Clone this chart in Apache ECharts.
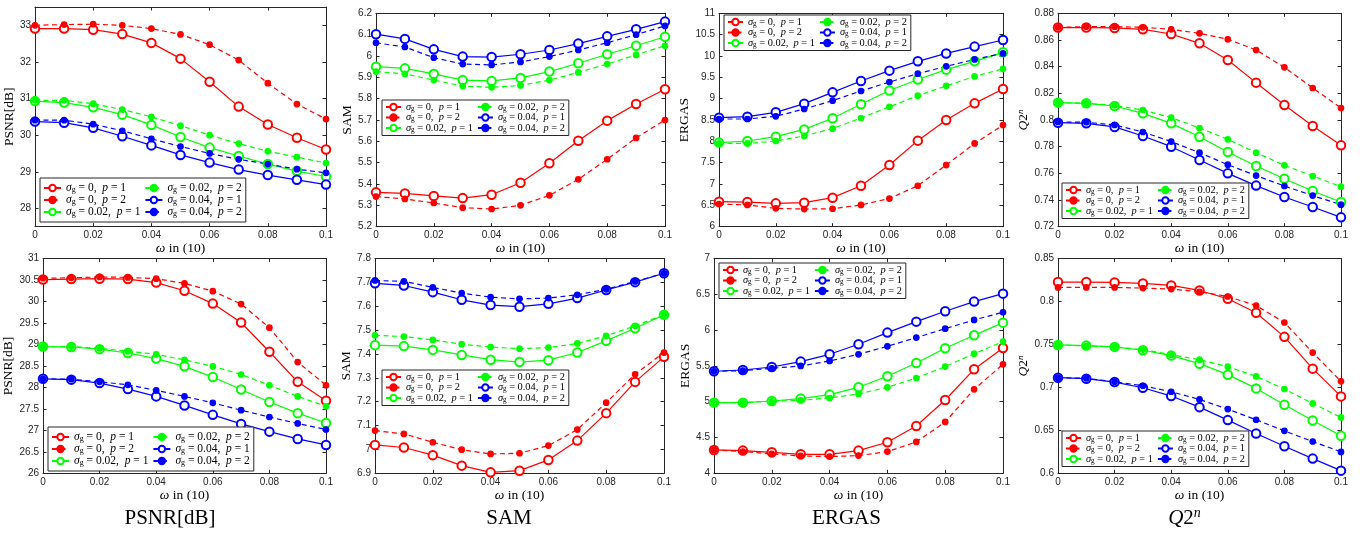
<!DOCTYPE html>
<html><head><meta charset="utf-8">
<script src="https://cdn.jsdelivr.net/npm/echarts@6/dist/echarts.min.js"></script>
<style>html,body{margin:0;padding:0;background:#fff}#c{width:1367px;height:536px}</style>
</head><body><div id="c"></div>
<script>
// ---------- data ----------
const omega = [0, 0.01, 0.02, 0.03, 0.04, 0.05, 0.06, 0.07, 0.08, 0.09, 0.1];
const omegaTicks = [0, 0.02, 0.04, 0.06, 0.08, 0.1];
const seriesKeys = ['s0p1', 's0p2', 's002p1', 's002p2', 's004p1', 's004p2'];
const columnTitles = ['PSNR[dB]', 'SAM', 'ERGAS', 'Q2n'];

// top row
const T_PSNR_s0_p1   = [32.91, 32.91, 32.88, 32.76, 32.52, 32.09, 31.46, 30.78, 30.29, 29.93, 29.61];
const T_PSNR_s0_p2   = [33.00, 33.02, 33.03, 33.00, 32.91, 32.75, 32.47, 32.05, 31.42, 30.85, 30.44];
const T_PSNR_s002_p1 = [30.93, 30.89, 30.76, 30.56, 30.28, 29.95, 29.66, 29.43, 29.21, 29.02, 28.87];
const T_PSNR_s002_p2 = [30.95, 30.95, 30.86, 30.70, 30.50, 30.26, 30.00, 29.77, 29.56, 29.40, 29.24];
const T_PSNR_s004_p1 = [30.37, 30.34, 30.20, 29.97, 29.72, 29.46, 29.25, 29.06, 28.91, 28.78, 28.65];
const T_PSNR_s004_p2 = [30.41, 30.41, 30.30, 30.12, 29.90, 29.69, 29.50, 29.34, 29.21, 29.07, 28.97];
const T_PSNR_ticks = [28, 29, 30, 31, 32, 33];

const T_SAM_s0_p1   = [5.361, 5.356, 5.344, 5.334, 5.350, 5.406, 5.497, 5.603, 5.697, 5.775, 5.844];
const T_SAM_s0_p2   = [5.341, 5.330, 5.311, 5.289, 5.283, 5.300, 5.347, 5.422, 5.516, 5.616, 5.700];
const T_SAM_s002_p1 = [5.950, 5.942, 5.916, 5.887, 5.883, 5.897, 5.927, 5.966, 6.008, 6.048, 6.090];
const T_SAM_s002_p2 = [5.927, 5.916, 5.887, 5.859, 5.853, 5.862, 5.887, 5.923, 5.962, 6.005, 6.048];
const T_SAM_s004_p1 = [6.102, 6.080, 6.031, 5.997, 5.995, 6.008, 6.028, 6.058, 6.092, 6.125, 6.161];
const T_SAM_s004_p2 = [6.062, 6.042, 5.992, 5.962, 5.958, 5.972, 5.997, 6.028, 6.062, 6.100, 6.141];
const T_SAM_ticks = [5.2, 5.3, 5.4, 5.5, 5.6, 5.7, 5.8, 5.9, 6, 6.1, 6.2];

const T_ERGAS_s0_p1   = [6.586, 6.578, 6.547, 6.563, 6.680, 6.960, 7.445, 8.016, 8.500, 8.890, 9.227];
const T_ERGAS_s0_p2   = [6.530, 6.510, 6.430, 6.414, 6.420, 6.510, 6.660, 6.960, 7.445, 7.950, 8.380];
const T_ERGAS_s002_p1 = [7.970, 8.008, 8.110, 8.280, 8.540, 8.870, 9.190, 9.450, 9.680, 9.875, 10.086];
const T_ERGAS_s002_p2 = [7.950, 7.950, 8.008, 8.125, 8.300, 8.547, 8.810, 9.070, 9.300, 9.520, 9.700];
const T_ERGAS_s004_p1 = [8.555, 8.578, 8.680, 8.883, 9.148, 9.414, 9.656, 9.875, 10.060, 10.220, 10.375];
const T_ERGAS_s004_p2 = [8.523, 8.523, 8.586, 8.758, 8.953, 9.180, 9.390, 9.586, 9.758, 9.920, 10.060];
const T_ERGAS_ticks = [6, 6.5, 7, 7.5, 8, 8.5, 9, 9.5, 10, 10.5, 11];

const T_Q2N_s0_p1   = [0.8693, 0.8693, 0.8690, 0.8680, 0.8645, 0.8575, 0.8450, 0.8280, 0.8113, 0.7955, 0.7810];
const T_Q2N_s0_p2   = [0.8695, 0.8700, 0.8700, 0.8695, 0.8680, 0.8650, 0.8605, 0.8525, 0.8395, 0.8240, 0.8090];
const T_Q2N_s002_p1 = [0.8130, 0.8125, 0.8105, 0.8050, 0.7975, 0.7875, 0.7760, 0.7655, 0.7560, 0.7468, 0.7385];
const T_Q2N_s002_p2 = [0.8130, 0.8125, 0.8110, 0.8075, 0.8018, 0.7940, 0.7855, 0.7755, 0.7660, 0.7580, 0.7500];
const T_Q2N_s004_p1 = [0.7980, 0.7975, 0.7948, 0.7880, 0.7800, 0.7700, 0.7600, 0.7508, 0.7423, 0.7348, 0.7270];
const T_Q2N_s004_p2 = [0.7985, 0.7983, 0.7963, 0.7910, 0.7838, 0.7755, 0.7665, 0.7583, 0.7505, 0.7433, 0.7365];
const T_Q2N_ticks = [0.72, 0.74, 0.76, 0.78, 0.8, 0.82, 0.84, 0.86, 0.88];

// bottom row
const B_PSNR_s0_p1   = [30.51, 30.52, 30.53, 30.52, 30.44, 30.25, 29.95, 29.51, 28.83, 28.13, 27.69];
const B_PSNR_s0_p2   = [30.54, 30.55, 30.57, 30.56, 30.53, 30.42, 30.24, 29.94, 29.39, 28.59, 28.05];
const B_PSNR_s002_p1 = [28.95, 28.94, 28.89, 28.80, 28.67, 28.49, 28.24, 27.95, 27.66, 27.40, 27.17];
const B_PSNR_s002_p2 = [28.95, 28.95, 28.91, 28.84, 28.77, 28.64, 28.49, 28.30, 28.05, 27.79, 27.56];
const B_PSNR_s004_p1 = [28.20, 28.18, 28.10, 27.96, 27.79, 27.58, 27.36, 27.15, 26.97, 26.80, 26.66];
const B_PSNR_s004_p2 = [28.20, 28.19, 28.13, 28.06, 27.93, 27.79, 27.64, 27.47, 27.31, 27.16, 27.02];
const B_PSNR_ticks = [26, 26.5, 27, 27.5, 28, 28.5, 29, 29.5, 30, 30.5, 31];

const B_SAM_s0_p1   = [7.019, 7.008, 6.976, 6.932, 6.904, 6.911, 6.956, 7.037, 7.152, 7.283, 7.388];
const B_SAM_s0_p2   = [7.079, 7.065, 7.030, 6.999, 6.981, 6.984, 7.016, 7.083, 7.196, 7.315, 7.406];
const B_SAM_s002_p1 = [7.437, 7.433, 7.417, 7.396, 7.376, 7.366, 7.374, 7.406, 7.455, 7.508, 7.564];
const B_SAM_s002_p2 = [7.478, 7.473, 7.459, 7.441, 7.429, 7.422, 7.427, 7.444, 7.476, 7.518, 7.564];
const B_SAM_s004_p1 = [7.696, 7.687, 7.659, 7.627, 7.605, 7.598, 7.610, 7.634, 7.668, 7.701, 7.738];
const B_SAM_s004_p2 = [7.708, 7.704, 7.679, 7.655, 7.638, 7.631, 7.634, 7.648, 7.671, 7.704, 7.738];
const B_SAM_ticks = [6.9, 7, 7.1, 7.2, 7.3, 7.4, 7.5, 7.6, 7.7, 7.8];

const B_ERGAS_s0_p1   = [4.326, 4.317, 4.293, 4.265, 4.265, 4.317, 4.433, 4.661, 5.024, 5.452, 5.750];
const B_ERGAS_s0_p2   = [4.326, 4.303, 4.270, 4.242, 4.233, 4.247, 4.303, 4.438, 4.717, 5.173, 5.522];
const B_ERGAS_s002_p1 = [4.987, 4.987, 5.010, 5.043, 5.099, 5.201, 5.355, 5.541, 5.746, 5.927, 6.104];
const B_ERGAS_s002_p2 = [4.987, 4.987, 5.006, 5.020, 5.052, 5.108, 5.201, 5.331, 5.490, 5.671, 5.839];
const B_ERGAS_s004_p1 = [5.425, 5.443, 5.485, 5.560, 5.662, 5.802, 5.965, 6.118, 6.263, 6.398, 6.509];
const B_ERGAS_s004_p2 = [5.425, 5.434, 5.467, 5.499, 5.569, 5.662, 5.774, 5.895, 6.020, 6.142, 6.249];
const B_ERGAS_ticks = [4, 4.5, 5, 5.5, 6, 6.5, 7];

const B_Q2N_s0_p1   = [0.8226, 0.8226, 0.8222, 0.8210, 0.8187, 0.8128, 0.8031, 0.7868, 0.7588, 0.7218, 0.6895];
const B_Q2N_s0_p2   = [0.8163, 0.8163, 0.8163, 0.8156, 0.8144, 0.8113, 0.8058, 0.7953, 0.7755, 0.7405, 0.7070];
const B_Q2N_s002_p1 = [0.7494, 0.7486, 0.7471, 0.7432, 0.7370, 0.7276, 0.7148, 0.6988, 0.6798, 0.6615, 0.6436];
const B_Q2N_s002_p2 = [0.7494, 0.7482, 0.7471, 0.7440, 0.7381, 0.7323, 0.7241, 0.7128, 0.6981, 0.6813, 0.6650];
const B_Q2N_s004_p1 = [0.7113, 0.7101, 0.7062, 0.6996, 0.6899, 0.6770, 0.6619, 0.6463, 0.6315, 0.6171, 0.6031];
const B_Q2N_s004_p2 = [0.7113, 0.7105, 0.7066, 0.7019, 0.6949, 0.6860, 0.6747, 0.6623, 0.6494, 0.6370, 0.6249];
const B_Q2N_ticks = [0.6, 0.65, 0.7, 0.75, 0.8, 0.85];

// ---------- layout ----------
const SERIF = '"Liberation Serif","DejaVu Serif",serif';
const SANS = '"Liberation Sans","DejaVu Sans",sans-serif';
const AX = '#262626';

const panels = [
  {grid:{left:35, top:7, width:291, height:219.7}, yMin:27.5, yMax:33.5, ticks:T_PSNR_ticks, yName:'PSNR[dB]', yGap:15,
   data:[T_PSNR_s0_p1,T_PSNR_s0_p2,T_PSNR_s002_p1,T_PSNR_s002_p2,T_PSNR_s004_p1,T_PSNR_s004_p2], lg:{left:40, top:178, sc:1}},
  {grid:{left:376, top:13.3, width:289, height:213.4}, yMin:5.2, yMax:6.2, ticks:T_SAM_ticks, yName:'SAM', yGap:17,
   data:[T_SAM_s0_p1,T_SAM_s0_p2,T_SAM_s002_p1,T_SAM_s002_p2,T_SAM_s004_p1,T_SAM_s004_p2], lg:{left:382, top:100, sc:0.9}},
  {grid:{left:719, top:13.3, width:284, height:213.4}, yMin:6, yMax:11, ticks:T_ERGAS_ticks, yName:'ERGAS', yGap:19,
   data:[T_ERGAS_s0_p1,T_ERGAS_s0_p2,T_ERGAS_s002_p1,T_ERGAS_s002_p2,T_ERGAS_s004_p1,T_ERGAS_s004_p2], lg:{left:724, top:15, sc:0.9}},
  {grid:{left:1058, top:13.3, width:283, height:213.4}, yMin:0.72, yMax:0.88, ticks:T_Q2N_ticks, yName:'Q2n', yGap:19,
   data:[T_Q2N_s0_p1,T_Q2N_s0_p2,T_Q2N_s002_p1,T_Q2N_s002_p2,T_Q2N_s004_p1,T_Q2N_s004_p2], lg:{left:1062, top:183, sc:0.9}},
  {grid:{left:43, top:258.5, width:283, height:214.8}, yMin:26, yMax:31, ticks:B_PSNR_ticks, yName:'PSNR[dB]', yGap:20,
   data:[B_PSNR_s0_p1,B_PSNR_s0_p2,B_PSNR_s002_p1,B_PSNR_s002_p2,B_PSNR_s004_p1,B_PSNR_s004_p2], lg:{left:48, top:427, sc:1}},
  {grid:{left:375, top:258.5, width:289, height:214.8}, yMin:6.9, yMax:7.8, ticks:B_SAM_ticks, yName:'SAM', yGap:18,
   data:[B_SAM_s0_p1,B_SAM_s0_p2,B_SAM_s002_p1,B_SAM_s002_p2,B_SAM_s004_p1,B_SAM_s004_p2], lg:{left:382, top:370, sc:0.9}},
  {grid:{left:714, top:258.5, width:289, height:214.8}, yMin:4, yMax:7, ticks:B_ERGAS_ticks, yName:'ERGAS', yGap:17,
   data:[B_ERGAS_s0_p1,B_ERGAS_s0_p2,B_ERGAS_s002_p1,B_ERGAS_s002_p2,B_ERGAS_s004_p1,B_ERGAS_s004_p2], lg:{left:719, top:263, sc:0.9}},
  {grid:{left:1058, top:258.5, width:283, height:214.8}, yMin:0.6, yMax:0.85, ticks:B_Q2N_ticks, yName:'Q2n', yGap:20,
   data:[B_Q2N_s0_p1,B_Q2N_s0_p2,B_Q2N_s002_p1,B_Q2N_s002_p2,B_Q2N_s004_p1,B_Q2N_s004_p2], lg:{left:1062, top:431, sc:0.9}}
];

const styles = [
  {color:'#ff0000', dash:false}, {color:'#ff0000', dash:true},
  {color:'#00ff00', dash:false}, {color:'#00ff00', dash:true},
  {color:'#0000ff', dash:false}, {color:'#0000ff', dash:true}
];
const legendText = {
  s0p1:'{i|σ}{s|g}{n| = 0,  }{i|p}{e| = 1}',
  s0p2:'{i|σ}{s|g}{n| = 0,  }{i|p}{e| = 2}',
  s002p1:'{i|σ}{s|g}{n| = 0.02,  }{i|p}{e| = 1}',
  s002p2:'{i|σ}{s|g}{n| = 0.02,  }{i|p}{e| = 2}',
  s004p1:'{i|σ}{s|g}{n| = 0.04,  }{i|p}{e| = 1}',
  s004p2:'{i|σ}{s|g}{n| = 0.04,  }{i|p}{e| = 2}'
};
const fmt = v => String(+(+v).toFixed(4));
const yNameText = n => n === 'Q2n' ? '{i|Q}{n|2}{sup|n}' : '{n|' + n + '}';
const nameRich = {
  i:{fontFamily:SERIF, fontStyle:'italic', fontSize:13.5, color:'#000'},
  n:{fontFamily:SERIF, fontSize:13.5, color:'#000'},
  sup:{fontFamily:SERIF, fontStyle:'italic', fontSize:9, color:'#000', verticalAlign:'top', padding:[0,0,6,0]}
};

const xAxes = [], yAxes = [], grids = [], series = [], legends = [];
panels.forEach((p, k) => {
  grids.push(Object.assign({containLabel:false}, p.grid));
  const line = {show:true, onZero:false, lineStyle:{color:AX, width:1}};
  const tick = t => ({show:true, inside:true, length:3.5, customValues:t, lineStyle:{color:AX, width:1}});
  xAxes.push({type:'value', gridIndex:k, min:0, max:0.1, position:'bottom', axisLine:line,
    axisTick:tick(omegaTicks), splitLine:{show:false},
    axisLabel:{customValues:omegaTicks, margin:4, fontSize:10, color:AX, fontFamily:SANS, formatter:fmt},
    name:'{i|ω}{n| in (10)}', nameLocation:'middle', nameGap:13, nameTextStyle:{rich:nameRich}});
  xAxes.push({type:'value', gridIndex:k, min:0, max:0.1, position:'top', axisLine:line,
    axisTick:tick(omegaTicks), splitLine:{show:false}, axisLabel:{show:false}});
  yAxes.push({type:'value', gridIndex:k, min:p.yMin, max:p.yMax, position:'left', axisLine:line,
    axisTick:tick(p.ticks), splitLine:{show:false},
    axisLabel:{customValues:p.ticks, margin:4, fontSize:10, color:AX, fontFamily:SANS, formatter:fmt},
    name:yNameText(p.yName), nameLocation:'middle', nameGap:p.yGap, nameRotate:90, nameTextStyle:{rich:nameRich}});
  yAxes.push({type:'value', gridIndex:k, min:p.yMin, max:p.yMax, position:'right', axisLine:line,
    axisTick:tick(p.ticks), splitLine:{show:false}, axisLabel:{show:false}});
  p.data.forEach((arr, s) => {
    const st = styles[s];
    series.push({type:'line', name:seriesKeys[s], xAxisIndex:2*k, yAxisIndex:2*k,
      data: omega.map((x, i) => [x, arr[i]]),
      symbol: st.dash ? 'circle' : 'emptyCircle', symbolSize: st.dash ? 5.5 : 8.5, showSymbol:true,
      lineStyle:{color:st.color, width:1.2, type: st.dash ? [5, 3.5] : 'solid'},
      itemStyle:{color:st.color, borderColor:st.color, borderWidth:1.2},
      emphasis:{disabled:true}, animation:false});
  });
  const sc = p.lg.sc, fs = 11.5 * sc, lh = Math.round(fs + 0.5), pv = sc === 1 ? 4 : 2;
  legends.push({show:true, orient:'vertical', left:p.lg.left, top:p.lg.top, height:3 * (lh + 1) + 4,
    data:seriesKeys.slice(),
    formatter: n => legendText[n],
    itemWidth:Math.round(17 * sc), itemHeight:8, itemGap:0, padding:[pv, 0, pv, 3],
    backgroundColor:'#fff', borderColor:AX, borderWidth:1, selectedMode:false,
    textStyle:{fontFamily:SERIF, fontSize:fs, color:'#000',
      rich:{
        i:{fontFamily:SERIF, fontStyle:'italic', fontSize:fs, lineHeight:lh, color:'#000'},
        s:{fontFamily:SERIF, fontSize:8 * sc, lineHeight:3, verticalAlign:'bottom', color:'#000'},
        n:{fontFamily:SERIF, fontSize:fs, lineHeight:lh, color:'#000'},
        e:{fontFamily:SERIF, fontSize:fs, lineHeight:lh, color:'#000', padding:[0, Math.round(4 * sc), 0, 0]}
      }}
  });
});

const titleX = [170, 509, 846.5, 1184.5];
const graphics = columnTitles.map((t, i) => ({
  type:'text', x:titleX[i], y:518, z:100,
  style: t === 'Q2n'
    ? {text:'{i|Q}{n|2}{sup|n}', align:'center', verticalAlign:'middle',
       rich:{i:{fontFamily:SERIF, fontStyle:'italic', fontSize:21}, n:{fontFamily:SERIF, fontSize:21},
             sup:{fontFamily:SERIF, fontStyle:'italic', fontSize:14, verticalAlign:'top', padding:[0,0,10,0]}}}
    : {text:t, font:'21px ' + SERIF, fill:'#000', align:'center', verticalAlign:'middle'}
}));

const chart = echarts.init(document.getElementById('c'), null, {renderer:'canvas'});
chart.setOption({backgroundColor:'#fff', animation:false, grid:grids, xAxis:xAxes, yAxis:yAxes,
  series:series, legend:legends, graphic:graphics});
</script></body></html>
